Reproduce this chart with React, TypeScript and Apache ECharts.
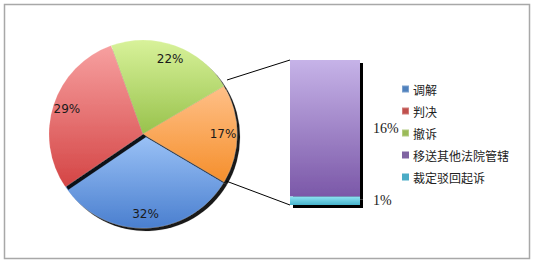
import React, { useEffect, useRef } from "react";
import * as echarts from "echarts";

const pieNames = ["调解", "判决", "撤诉", "其他"];
const pieValues = [32, 29, 22, 17];
const barNames = ["裁定驳回起诉", "移送其他法院管辖"];
const barValues = [1, 16];
const legendNames = ["调解", "判决", "撤诉", "移送其他法院管辖", "裁定驳回起诉"];
const legendColors = ["#4f81bd", "#c0504d", "#9bbb59", "#8064a2", "#4bacc6"];

const grad = (a: string, b: string) =>
  new echarts.graphic.LinearGradient(0, 0, 0, 1, [
    { offset: 0, color: a },
    { offset: 1, color: b },
  ]);

const pieGrads = [
  ["#9cc3f7", "#4a7fcf"],
  ["#f7a0a0", "#d44545"],
  ["#d8f29a", "#98c24c"],
  ["#ffc088", "#f58f2c"],
];
const barGrads = [
  ["#8fe3f2", "#45b3cc"],
  ["#c6b3e8", "#7b58a8"],
];

export default function App() {
  const ref = useRef<HTMLDivElement>(null);
  useEffect(() => {
    const chart = echarts.init(ref.current!, null, { renderer: "svg" });
    const pieCommon = {
      type: "pie",
      center: [143, 134],
      startAngle: -30.6,
      clockwise: true,
      labelLine: { show: false },
      emphasis: { disabled: true },
    };
    chart.setOption({
      animation: false,
      backgroundColor: "#ffffff",
      graphic: [
        {
          type: "rect",
          shape: { x: 4.5, y: 4.5, width: 525, height: 254 },
          style: { fill: "none", stroke: "#a8a8a8", lineWidth: 1.5 },
          z: 0,
        },
        {
          type: "line",
          shape: { x1: 227, y1: 80, x2: 290, y2: 60 },
          style: { stroke: "#000", lineWidth: 1 },
        },
        {
          type: "line",
          shape: { x1: 226, y1: 181, x2: 290, y2: 205 },
          style: { stroke: "#000", lineWidth: 1 },
        },
      ],
      legend: {
        orient: "vertical",
        left: 396,
        top: 78,
        itemWidth: 7,
        itemHeight: 7,
        itemGap: 10,
        icon: "rect",
        textStyle: {
          fontFamily: "Noto Sans CJK SC",
          fontSize: 12,
          color: "#222",
          padding: [0, 0, 0, -1],
        },
        data: legendNames.map((n, i) => ({
          name: n,
          itemStyle: { color: legendColors[i] },
        })),
      },
      grid: { left: 290, top: 60, width: 70, height: 145 },
      xAxis: {
        type: "category",
        data: ["x"],
        show: false,
      },
      yAxis: { type: "value", min: 0, max: 17, show: false },
      series: [
        {
          ...pieCommon,
          radius: 94,
          label: { show: false },
          itemStyle: {
            borderColor: "rgba(255,255,255,0.25)",
            borderWidth: 0.5,
            shadowColor: "rgba(0,0,0,0.9)",
            shadowOffsetX: 3,
            shadowOffsetY: 3,
            shadowBlur: 1,
          },
          data: pieNames.map((n, i) => ({
            name: n,
            value: pieValues[i],
            itemStyle: { color: grad(pieGrads[i][0], pieGrads[i][1]) },
          })),
        },
        {
          ...pieCommon,
          radius: [60, 94],
          silent: true,
          z: 5,
          itemStyle: { color: "transparent" },
          label: {
            position: "inside",
            formatter: "{c}%",
            fontFamily: "DejaVu Sans",
            fontSize: 12,
            color: "#1a1a1a",
          },
          data: pieNames.map((n, i) => ({
            name: n + " ",
            value: pieValues[i],
          })),
        },
        ...barNames.map((n, i) => ({
          type: "bar",
          name: n,
          stack: "s",
          barWidth: "100%",
          z: i === 0 ? 3 : 2,
          data: [barValues[i]],
          itemStyle: {
            color: grad(barGrads[i][0], barGrads[i][1]),
            shadowColor: "rgba(0,0,0,1)",
            shadowOffsetX: 3,
            shadowOffsetY: 3,
            shadowBlur: 0,
          },
          label: {
            show: true,
            position: "right",
            distance: 13,
            formatter: "{c}%",
            fontFamily: "Liberation Serif",
            fontSize: 14,
            color: "#1a1a1a",
          },
          emphasis: { disabled: true },
        })),
      ],
    });
    return () => chart.dispose();
  }, []);
  return (
    <div
      ref={ref}
      style={{ position: "fixed", left: 0, top: 0, width: 537, height: 265 }}
    />
  );
}
